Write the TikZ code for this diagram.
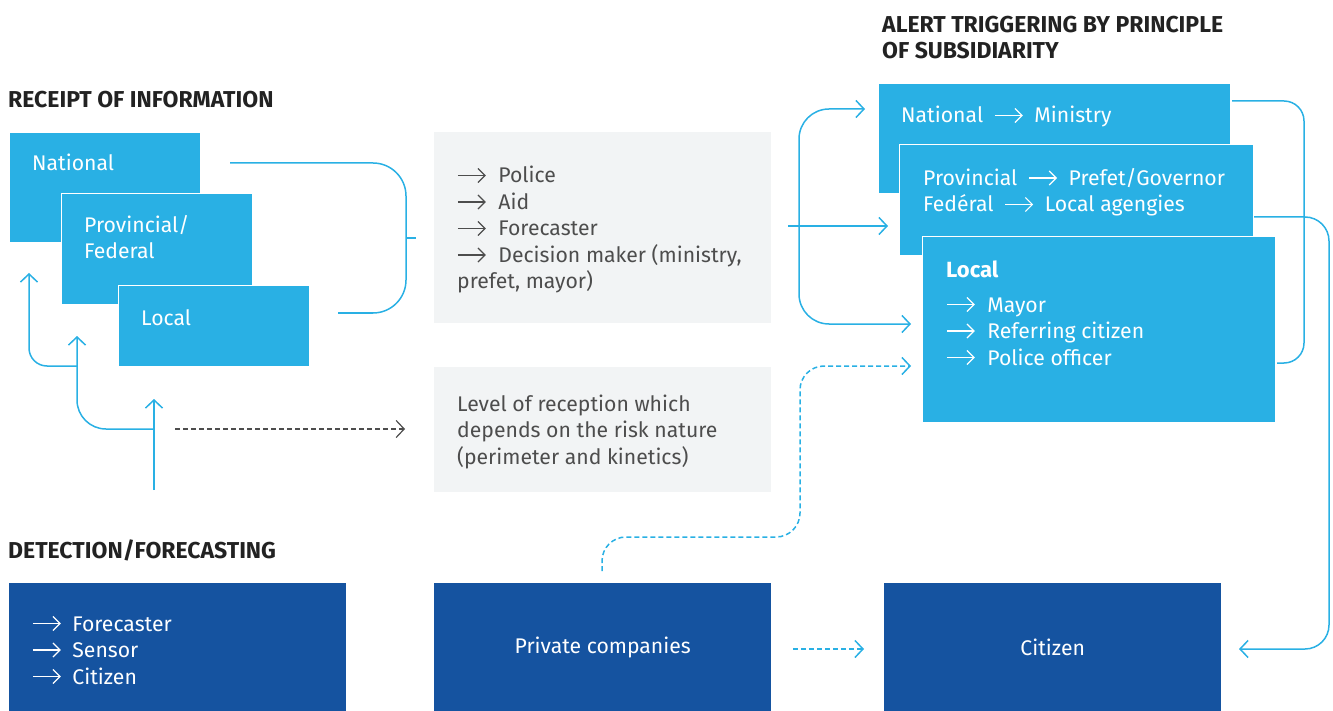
\documentclass[tikz,border=0pt]{standalone}
\usepackage{fontspec}
\setmainfont{Fira Sans}
\usetikzlibrary{arrows.meta}

\definecolor{skyblue}{RGB}{41,176,228}
\definecolor{navyblue}{RGB}{21,83,160}
\definecolor{panelgray}{RGB}{242,244,245}
\definecolor{textgray}{RGB}{77,77,77}
\definecolor{headgray}{RGB}{34,34,34}

\newcommand{\bodyfont}{\fontsize{21.2}{26.5}\selectfont}
\newcommand{\headfont}{\fontsize{23}{26}\selectfont\bfseries}
\newcommand{\arr}{\tikz[baseline=-7.5pt]\draw[line width=1.2pt, -{Straight Barb[length=7pt,width=14pt]}] (0pt,0pt) -- (28pt,0pt);}

\begin{document}
\begin{tikzpicture}[x=1pt, y=-1pt,
    boxlight/.style={rectangle, fill=skyblue, draw=white, line width=1.2pt, inner sep=0pt, anchor=north west},
    boxdark/.style={rectangle, fill=navyblue, inner sep=0pt, anchor=north west, text=white, font=\bodyfont},
    panel/.style={rectangle, fill=panelgray, inner sep=0pt, anchor=north west},
    heading/.style={anchor=base west, inner sep=0pt, align=left, text=headgray, font=\headfont},
    txtwhite/.style={anchor=base west, inner sep=0pt, align=left, text=white, font=\bodyfont},
    txtgray/.style={anchor=base west, inner sep=0pt, align=left, text=textgray, font=\bodyfont},
    conn/.style={draw=skyblue, line width=1.5pt},
    tip/.style={-{Straight Barb[length=8pt,width=17pt]}},
    tipboth/.style={{Straight Barb[length=8pt,width=17pt]}-{Straight Barb[length=8pt,width=17pt]}},
    dashgray/.style={draw=textgray, line width=1.2pt, dash pattern=on 5pt off 3pt},
    dashblue/.style={draw=skyblue, line width=1.5pt, dash pattern=on 5pt off 3pt},
]
    \useasboundingbox (0,0) rectangle (1333,711);

    % Receipt of information
    \node[boxlight, minimum width=191pt, minimum height=110pt] (natL) at (9,132) {};
    \node[boxlight, minimum width=191pt, minimum height=111pt] (provL) at (61,193) {};
    \node[boxlight, minimum width=191pt, minimum height=81pt] (locL) at (118,285) {};

    % Grey panels
    \node[panel, minimum width=337pt, minimum height=191pt] (alarm) at (434,132) {};
    \node[panel, minimum width=337pt, minimum height=125pt] (level) at (434,367) {};

    % Alert triggering
    \node[boxlight, minimum width=352pt, minimum height=110pt] (natR) at (878,83) {};
    \node[boxlight, minimum width=354pt, minimum height=111pt] (provR) at (899,144) {};
    \node[boxlight, minimum width=353pt, minimum height=186pt] (locR) at (922,236) {};

    % Detection / forecasting
    \node[boxdark, minimum width=337pt, minimum height=128pt] (detect) at (9,583) {};
    \node[boxdark, minimum width=337pt, minimum height=128pt] (privat) at (434,583) {\raisebox{-3pt}{Private companies}};
    \node[boxdark, minimum width=337pt, minimum height=128pt] (citizen) at (884,583) {\raisebox{-3pt}{Citizen}};

    % Headings (anchored at the baseline of the last line)
    \node[heading] (hAlert) at (882,59) {ALERT TRIGGERING BY PRINCIPLE\\OF SUBSIDIARITY};
    \node[heading] (hReceipt) at (8,108) {RECEIPT OF INFORMATION};
    \node[heading] (hDetect) at (8,558) {DETECTION/FORECASTING};

    % Texts of the boxes
    \node[txtwhite] (tNatL) at (32,171) {National};
    \node[txtwhite] (tProvL) at (84,259) {Provincial/\\Federal};
    \node[txtwhite] (tLocL) at (141,325) {Local};

    \node[txtgray] (tAlarm) at (457,289) {\arr\hspace{12pt}Police\\\arr\hspace{12pt}Aid\\\arr\hspace{12pt}Forecaster\\\arr\hspace{12pt}Decision maker (ministry,\\prefet, mayor)};
    \node[txtgray] (tLevel) at (457,464) {Level of reception which\\depends on the risk nature\\(perimeter and kinetics)};

    \node[txtwhite] (tNatR) at (901,123) {National\hspace{11pt}\arr\hspace{11pt}Ministry};
    \node[txtwhite] (tProvR) at (923,212) {Provincial\hspace{11pt}\arr\hspace{11pt}Prefet/Governor\\Fedéral\hspace{11pt}\arr\hspace{11pt}Local agengies};
    \node[txtwhite, font=\fontsize{22}{26}\selectfont\bfseries] (tLocR) at (946,278) {Local};
    \node[txtwhite] (tLocList) at (946,365) {\arr\hspace{12pt}Mayor\\\arr\hspace{12pt}Referring citizen\\\arr\hspace{12pt}Police officer};

    \node[txtwhite] (tDetect) at (32,684) {\arr\hspace{11pt}Forecaster\\\arr\hspace{11pt}Sensor\\\arr\hspace{11pt}Citizen};

    % Connector end points
    \coordinate (srcL) at (154,490);
    \coordinate (forkA) at (154,429);
    \coordinate (locLin) at (154,399);
    \coordinate (forkB) at (77,366);
    \coordinate (provLin) at (77,336);
    \coordinate (natLin) at (29,273);
    \coordinate (levelOut) at (175,429);
    \coordinate (levelIn) at (405,429);

    \coordinate (natLout) at (230,163);
    \coordinate (brkL) at (406,238);
    \coordinate (locLout) at (338,313);
    \coordinate (alarmIn) at (416,238);

    \coordinate (alarmOut) at (788,226);
    \coordinate (brkR) at (799,226);
    \coordinate (provRin) at (888,226);
    \coordinate (natRin) at (865,109);
    \coordinate (locRin) at (911,324);

    \coordinate (privOut) at (602,571);
    \coordinate (dashA) at (700,537);
    \coordinate (dashB) at (800,450);
    \coordinate (locRdash) at (911,366);
    \coordinate (privRight) at (793,649);
    \coordinate (citizenLeft) at (864,649);

    \coordinate (natRout) at (1232,101);
    \coordinate (brkRR) at (1304,230);
    \coordinate (locRout) at (1277,363);
    \coordinate (provRout) at (1254,217);
    \coordinate (brkCit) at (1329,430);
    \coordinate (citizenIn) at (1239,649);

    % Left arrows
    \draw[conn, tip] (srcL) -- (locLin);
    \draw[conn, tip, rounded corners=29pt] (forkA) -| (provLin);
    \draw[conn, tip, rounded corners=18pt] (forkB) -| (natLin);
    \draw[dashgray, tip] (levelOut) -- (levelIn);

    % Bracket to the grey panel
    \draw[conn, rounded corners=33pt] (natLout) -| (brkL) |- (locLout);
    \draw[conn] (brkL) -- (alarmIn);

    % Into the alert boxes
    \draw[conn, tip] (alarmOut) -- (provRin);
    \draw[conn, tipboth, rounded corners=30pt] (natRin) -| (brkR) |- (locRin);
    \draw[dashblue, tip, rounded corners=24pt] (privOut) |- (dashA) -| (dashB) |- (locRdash);
    \draw[dashblue, tip] (privRight) -- (citizenLeft);

    % Right side
    \draw[conn, rounded corners=20pt] (natRout) -| (brkRR) |- (locRout);
    \draw[conn, tip, rounded corners=24pt] (provRout) -| (brkCit) |- (citizenIn);

\end{tikzpicture}
\end{document}
